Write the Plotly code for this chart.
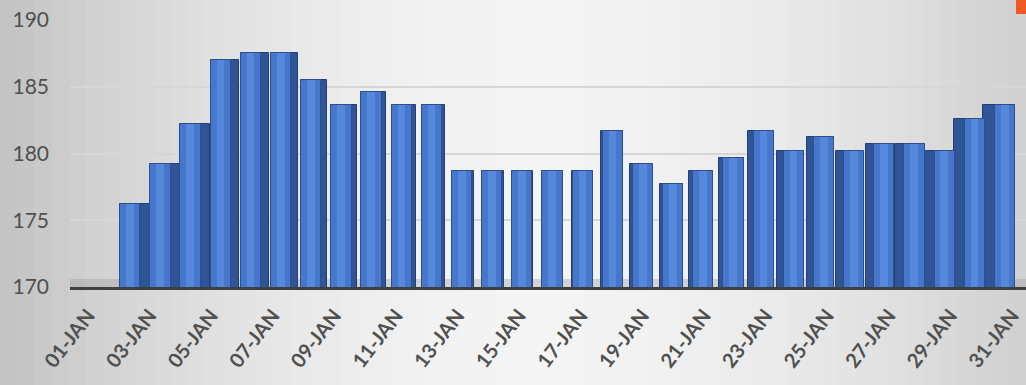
import plotly.graph_objects as go

dates = ["01-JAN", "02-JAN", "03-JAN", "04-JAN", "05-JAN", "06-JAN", "07-JAN", "08-JAN",
         "09-JAN", "10-JAN", "11-JAN", "12-JAN", "13-JAN", "14-JAN", "15-JAN", "16-JAN",
         "17-JAN", "18-JAN", "19-JAN", "20-JAN", "21-JAN", "22-JAN", "23-JAN", "24-JAN",
         "25-JAN", "26-JAN", "27-JAN", "28-JAN", "29-JAN", "30-JAN", "31-JAN"]
values = [None, 176.2, 179.2, 182.2, 187.0, 187.5, 187.5, 185.5,
          183.6, 184.6, 183.6, 183.6, 178.7, 178.7, 178.7, 178.7,
          178.7, 181.7, 179.2, 177.7, 178.7, 179.7, 181.7, 180.2,
          181.2, 180.2, 180.7, 180.7, 180.2, 182.6, 183.6]
tick_labels = ["01-JAN", "03-JAN", "05-JAN", "07-JAN", "09-JAN", "11-JAN", "13-JAN", "15-JAN",
               "17-JAN", "19-JAN", "21-JAN", "23-JAN", "25-JAN", "27-JAN", "29-JAN", "31-JAN"]
y_ticks = [170, 175, 180, 185, 190]

W, H = 1026, 385
L, R, T, B = 70, 0, 20, 98
PW, PH = W - L - R, H - T - B


def px2x(p):
    return (p - L) / PW


def px2y(p):
    return (H - B - p) / PH


# pseudo-3D styling: side face widths depend on position relative to "camera"
n = len(dates)
center = 14.85
front_w = 0.68
side_off, side_w, front_off, hl_off = [], [], [], []
for i in range(n):
    t = (i - center) / center
    s = 0.38 * abs(t)
    tot = front_w + s
    side_off.append(-tot / 2)
    side_w.append(tot)
    fo = -tot / 2 if t < 0 else -tot / 2 + s
    front_off.append(fo)
    hl_off.append(fo + 0.2)

fig = go.Figure()
fig.add_trace(go.Bar(x=dates, y=values, offset=side_off, width=side_w,
                     marker=dict(color="#2f5597", line=dict(color="#243f73", width=1)),
                     hoverinfo="skip", showlegend=False))
fig.add_trace(go.Bar(x=dates, y=values, offset=front_off, width=[front_w] * n,
                     marker=dict(color="#4677cc", line=dict(color="#2c4f8f", width=1)),
                     showlegend=False))
fig.add_trace(go.Bar(x=dates, y=values, offset=hl_off, width=[0.26] * n,
                     marker=dict(color="#5689db", line=dict(width=0)),
                     hoverinfo="skip", showlegend=False))
# label axis (perspective spreads the labels slightly wider than the bars)
fig.add_trace(go.Scatter(x=dates, y=[None] * n, xaxis="x2", mode="markers",
                         hoverinfo="skip", showlegend=False))

shapes = []
# background gradient (horizontal), drawn as strips
nstrip = 60
for k in range(nstrip):
    p0 = W * k / nstrip
    p1 = W * (k + 1) / nstrip + 1
    u = (p0 + p1) / 2 / W
    if u < 0.52:
        d = (0.52 - u) / 0.52
        lum = 244 - 50 * d ** 1.8
    else:
        d = (u - 0.52) / 0.48
        lum = 244 - 36 * d ** 1.8
    c = int(round(lum))
    shapes.append(dict(type="rect", xref="paper", yref="paper", layer="below",
                       x0=px2x(p0), x1=px2x(p1), y0=px2y(H), y1=px2y(0),
                       fillcolor=f"rgb({c},{c},{c})", line=dict(width=0)))
# floor band
shapes.append(dict(type="rect", xref="paper", yref="paper", layer="below",
                   x0=0, x1=1, y0=0, y1=px2y(279),
                   fillcolor="rgba(150,150,150,0.35)", line=dict(width=0)))
# orange marker at top-right corner
shapes.append(dict(type="rect", xref="paper", yref="paper",
                   x0=px2x(1016), x1=px2x(1026), y0=px2y(14), y1=px2y(0),
                   fillcolor="#f05a22", line=dict(width=0)))

lab_first, lab_last = 88, 1012
unit = (lab_last - lab_first) / 30
x2_range = [-(lab_first - L) / unit, 30 + (W - R - lab_last) / unit]

fig.update_layout(
    width=W, height=H,
    margin=dict(l=L, r=R, t=T, b=B),
    paper_bgcolor="#e6e6e6",
    plot_bgcolor="rgba(0,0,0,0)",
    barmode="overlay",
    bargap=0,
    shapes=shapes,
    font=dict(family="Lato, Open Sans, sans-serif", color="#595959"),
    xaxis=dict(
        type="category", range=[-1.2, 30.9],
        showticklabels=False,
        showline=True, linecolor="#3f3f3f", linewidth=3,
        showgrid=False, ticks="",
    ),
    xaxis2=dict(
        type="category", range=x2_range, overlaying="x", side="bottom", anchor="y",
        tickmode="array", tickvals=tick_labels, ticktext=tick_labels,
        tickangle=-52, tickfont=dict(size=20, color="#505050", family="Lato, sans-serif", weight="bold"),
        showline=False, showgrid=False, zeroline=False, ticks="", ticklabelstandoff=12,
    ),
    yaxis=dict(
        range=[170, 190], tickvals=y_ticks,
        tickfont=dict(size=21, color="#505050"),
        showgrid=True, gridcolor="#d6d6d6", gridwidth=1.5,
        zeroline=False, showline=False, ticks="", ticklabelstandoff=20,
    ),
)

fig.write_html("out.html")
